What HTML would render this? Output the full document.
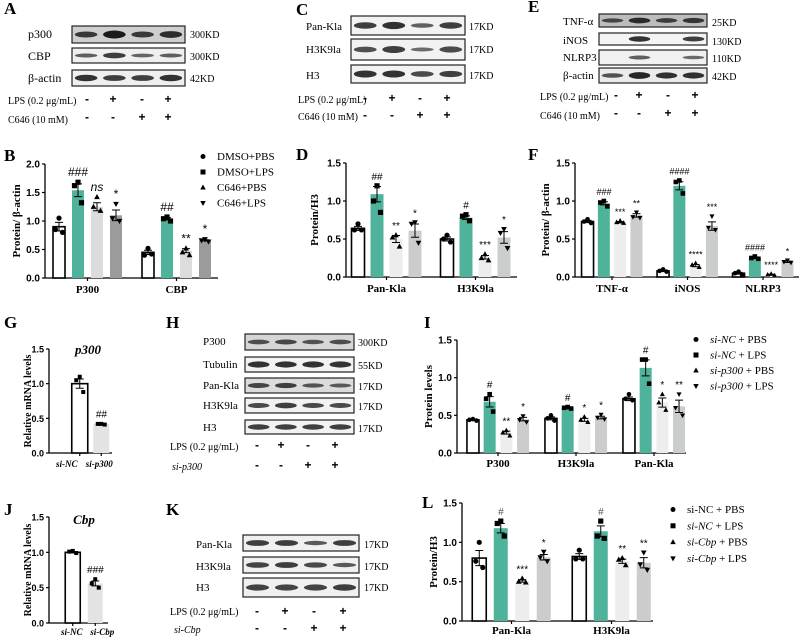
<!DOCTYPE html>
<html><head><meta charset="utf-8"><style>
body{margin:0;background:#fff;width:800px;height:640px;overflow:hidden}
svg{display:block}
.s{font-family:"Liberation Serif",serif}
.a{font-family:"Liberation Sans",sans-serif}
</style></head><body>
<svg id="fig" width="800" height="640" viewBox="0 0 800 640"></svg>
<script>
// ---------- DATA ----------
const bCats=["P300","CBP"];
const bVals=[[0.9,1.54,1.25,1.1],[0.45,1.04,0.48,0.66]];
const bPts=[[[1.05,0.85,0.8],[1.68,1.62,1.32],[1.42,1.25,1.18],[1.3,1.05,1.0]],[[0.52,0.4,0.42],[1.07,1.04,1.0],[0.52,0.45,0.4],[0.68,0.66,0.64]]];
const bSig=[["###","ns","*"],["##","**","*"]];
const bTicks=[0,0.5,1.0,1.5,2.0];
const bLegend=["DMSO+PBS","DMSO+LPS","C646+PBS","C646+LPS"];

const dCats=["Pan-Kla","H3K9la"];
const dVals=[[0.64,1.09,0.5,0.61],[0.5,0.78,0.26,0.52]];
const dPts=[[[0.7,0.62,0.62],[1.2,1.0,0.85],[0.55,0.52,0.4],[0.72,0.7,0.45]],[[0.55,0.5,0.46],[0.82,0.8,0.74],[0.3,0.25,0.22],[0.63,0.58,0.38]]];
const dSig=[["##","**","*"],["#","***","*"]];
const dTicks=[0,0.5,1.0,1.5];

const fCats=["TNF-α","iNOS","NLRP3"];
const fVals=[[0.73,0.97,0.72,0.81],[0.08,1.2,0.15,0.67],[0.05,0.25,0.03,0.2]];
const fPts=[[[0.76,0.73,0.71],[1.0,0.98,0.93],[0.74,0.72,0.71],[0.85,0.79,0.78]],[[0.1,0.08,0.07],[1.27,1.25,1.1],[0.18,0.16,0.13],[0.8,0.65,0.62]],[[0.07,0.05,0.03],[0.27,0.25,0.24],[0.04,0.03,0.02],[0.22,0.2,0.19]]];
const fSig=[["###","***","**"],["####","****","***"],["####","****","*"]];
const fTicks=[0,0.5,1.0,1.5];

const iCats=["P300","H3K9la","Pan-Kla"];
const iVals=[[0.44,0.68,0.27,0.45],[0.46,0.6,0.44,0.47],[0.72,1.13,0.67,0.62]];
const iPts=[[[0.45,0.44,0.43],[0.78,0.72,0.55],[0.3,0.27,0.23],[0.49,0.44,0.41]],[[0.5,0.46,0.43],[0.61,0.6,0.59],[0.48,0.44,0.41],[0.51,0.47,0.45]],[[0.78,0.72,0.7],[1.24,1.24,0.92],[0.78,0.67,0.57],[0.78,0.6,0.5]]];
const iSig=[["#","**","*"],["#","*","*"],["#","*","**"]];
const iTicks=[0,0.5,1.0,1.5];

const lCats=["Pan-Kla","H3K9la"];
const lVals=[[0.8,1.18,0.51,0.81],[0.82,1.14,0.76,0.74]];
const lPts=[[[1.0,0.76,0.68],[1.27,1.24,1.08],[0.54,0.5,0.49],[0.88,0.81,0.76]],[[0.9,0.79,0.79],[1.27,1.08,1.05],[0.8,0.78,0.71],[0.87,0.72,0.65]]];
const lSig=[["#","***","*"],["#","**","**"]];
const lTicks=[0,0.5,1.0,1.5];

const gCats=["si-NC","si-p300"];
const gVals=[1.0,0.42];
const gPts=[[1.1,1.05,0.88],[0.42,0.42,0.41]];
const jCats=["si-NC","si-Cbp"];
const jVals=[1.0,0.56];
const jPts=[[1.02,1.01,0.99],[0.62,0.56,0.5]];
const gjTicks=[0,0.5,1.0,1.5];

// ---------- HELPERS ----------
const NS="http://www.w3.org/2000/svg";
const svg=document.getElementById('fig');
function el(tag,attrs,parent,txt){const e=document.createElementNS(NS,tag);for(const k in attrs)e.setAttribute(k,attrs[k]);if(txt!==undefined)e.textContent=txt;(parent||svg).appendChild(e);return e;}
function txt(x,y,s,size,cls,anchor,extra,parent,name){const t=el('text',Object.assign({x:x,y:y,'font-size':size,class:cls,'text-anchor':anchor||'start'},extra||{}),parent,s);


return t;}
function marker(g,kind,x,y,r){let m;
 if(kind===0)m=el('circle',{cx:x,cy:y,r:r,fill:'#000'},g);
 else if(kind===1)m=el('rect',{x:x-r,y:y-r,width:2*r,height:2*r,fill:'#000'},g);
 else if(kind===2)m=el('polygon',{points:`${x},${y-r*1.2} ${x-r*1.1},${y+r*0.8} ${x+r*1.1},${y+r*0.8}`,fill:'#000'},g);
 else m=el('polygon',{points:`${x},${y+r*1.2} ${x-r*1.1},${y-r*0.8} ${x+r*1.1},${y-r*0.8}`,fill:'#000'},g);
 
 
}
function sem(a){const m=a.reduce((s,v)=>s+v,0)/a.length;const sd=Math.sqrt(a.reduce((s,v)=>s+(v-m)*(v-m),0)/(a.length-1));return sd/Math.sqrt(a.length);}

function barChart(o){
 const g=el('g',{});
 
 
 const y=v=>o.y0-(v/o.max)*(o.y0-o.yTop);
 const ax=el('path',{d:`M${o.ax},${o.yTop} V${o.y0} H${o.xEnd}`,stroke:'#000','stroke-width':1.3,fill:'none'},g);
 
 
 o.ticks.forEach(t=>{el('line',{x1:o.ax-3,x2:o.ax,y1:y(t),y2:y(t),stroke:'#000','stroke-width':1.2},g);
  txt(o.ax-5,y(t)+3.5,t.toFixed(1),o.tickSize||10,'a','end',{'font-weight':'bold'},g,'y-tick-label');});
 o.cats.forEach((c,gi)=>{
  const cx=o.c0+gi*o.gs;
  const vals=o.vals[gi];
  if(!o.barLabels){
   el('line',{x1:cx,x2:cx,y1:o.y0,y2:o.y0+3,stroke:'#000','stroke-width':1.2},g);
   txt(cx,o.labY,c,o.catSize||11,'s','middle',{'font-weight':'bold'},g,'x-category-label');
  }
  vals.forEach((v,bi)=>{
   const bx=cx+(bi-(vals.length-1)/2)*o.pitch-o.bw/2;
   const mx=bx+o.bw/2;
   const fill=o.colors[bi];
   const r=el('rect',{x:bx,y:y(v),width:o.bw,height:o.y0-y(v),fill:fill,stroke:bi===0?'#000':'none','stroke-width':bi===0?1.6:0},g);
   
   
   if(o.barLabels){
    el('line',{x1:mx,x2:mx,y1:o.y0,y2:o.y0+3,stroke:'#000','stroke-width':1.2},g);
    txt(mx+(o.labDx?o.labDx[bi]:0),o.labY,o.barLabels[bi],o.catSize||9,'s','middle',{'font-weight':'bold','font-style':'italic'},g,'x-category-label');
   }
   const pts=o.pts[gi][bi];const e=sem(pts);
   el('path',{d:`M${mx},${y(v-e)} V${y(v+e)} M${mx-4},${y(v+e)} H${mx+4} M${mx-4},${y(v-e)} H${mx+4}`,stroke:'#000','stroke-width':1,fill:'none'},g);
   const off=[0,-3.5,3.5];
   pts.forEach((p,k)=>marker(g,o.kinds?o.kinds[bi]:bi,mx+off[k],y(p),o.mr||2.6));
   if(bi>0&&o.sig){const top=Math.max(v+e,...pts);
    const s=o.sig[gi][bi-1];
    txt(mx,y(top)-6,s,o.sigSize||11,'a','middle',{'font-style':(s==='ns'||o.sigItal||(s[0]==='#'&&o.hashItal))?'italic':'normal',fill:(s[0]==='#'&&o.hashColor)?o.hashColor:'#000'},g,'significance-label');}
  });
 });
 txt(0,0,o.ytitle,o.ytSize||11,'s','middle',{'font-weight':'bold',transform:`translate(${o.ytx},${(o.y0+o.yTop)/2}) rotate(-90)`},g,'y-axis-title');
 return g;
}
function legend(x,y0,dy,items,size){items.forEach((it,i)=>{const g=el('g',{});
 
 
 marker(g,i,x,y0+i*dy-3.5,2.5);
 const t=el('text',{x:x+14,y:y0+i*dy,'font-size':size||11,class:'s'},g);
 it.forEach(p=>{el('tspan',{'font-style':p[1]?'italic':'normal'},t,p[0]);});
});}
function blot(x,y,w,h,intens,name,bg){const g=el('g',{});
 
 
 el('rect',{x:x,y:y,width:w,height:h,fill:bg||'#ececec',stroke:'#222','stroke-width':1.2},g);
 intens.forEach((v,i)=>{if(v<=0)return;const lw=w/4;const cx=x+lw*(i+0.5);
  el('ellipse',{cx:cx,cy:y+h/2,rx:lw*0.4,ry:1.2+h*0.18*v,fill:'#111',opacity:0.5+0.5*v},g);});
}
function signs(xs,y,arr){arr.forEach((s,i)=>txt(xs[i],y,s,12,'a','middle',{'font-weight':'bold'},null,'condition-sign'));}

const cols1=['#ffffff','#4fb39b','#dcdcdc','#9b9b9b'];
const cols2=['#ffffff','#4fb39b','#ededed','#cbcccc'];

// ---------- PANEL LETTERS ----------
[["A",4,14],["B",4,161],["C",296,15],["D",296,160],["E",528,12],["F",528,160],["G",4,328],["H",166,328],["I",424,328],["J",4,515],["K",166,515],["L",422,508]].forEach(p=>txt(p[1],p[2],p[0],17,'s','start',{'font-weight':'bold'},null,'panel-letter-'+p[0]));

// ---------- BLOTS ----------
// A
[["p300",26,17,[0.6,0.9,0.6,0.7],"300KD"],["CBP",48,15,[0.3,0.6,0.25,0.3],"300KD"],["β-actin",70,16,[0.7,0.6,0.6,0.7],"42KD"]].forEach(r=>{
 blot(72,r[1],113,r[2],r[3],'blot-'+r[0],r[0]==='p300'?'#cfcfcf':'#efefef');txt(28,r[1]+12,r[0],12,'s','start',{},null,'blot-label');txt(190,r[1]+12,r[4],10,'s','start',{},null,'blot-size');});
txt(8,104,"LPS (0.2 μg/mL)",10,'s','start',{},null,'condition-label');txt(8,123,"C646 (10 mM)",10,'s','start',{},null,'condition-label');
signs([87,113,142,168],103,["-","+","-","+"]);signs([87,113,142,168],121,["-","-","+","+"]);
// C
[["Pan-Kla",16,19,[0.6,0.7,0.3,0.6]],["H3K9la",39,21,[0.45,0.6,0.2,0.5]],["H3",65,18,[0.7,0.7,0.5,0.6]]].forEach(r=>{
 blot(351,r[1],114,r[2],r[3],'blot-'+r[0],'#f2f2f2');txt(306,r[1]+14,r[0],11,'s','start',{},null,'blot-label');txt(469,r[1]+14,"17KD",10,'s','start',{},null,'blot-size');});
txt(298,103,"LPS (0.2 μg/mL)",10,'s','start',{},null,'condition-label');txt(298,120,"C646 (10 mM)",10,'s','start',{},null,'condition-label');
signs([365,392,420,447],102,["-","+","-","+"]);signs([365,392,420,447],119,["-","-","+","+"]);
// E
[["TNF-α",14,13,[0.4,0.7,0.5,0.6],"25KD",'#bdbdbd'],["iNOS",33,12,[0,0.7,0,0.6],"130KD",'#f4f4f4'],["NLRP3",50,15,[0,0.3,0,0.2],"110KD",'#f0f0f0'],["β-actin",68,15,[0.4,0.8,0.7,0.7],"42KD",'#ebebeb']].forEach(r=>{
 blot(599,r[1],108,r[2],r[3],'blot-'+r[0],r[5]);txt(563,r[1]+11,r[0],11,'s','start',{},null,'blot-label');txt(712,r[1]+12,r[4],10,'s','start',{},null,'blot-size');});
txt(540,100,"LPS (0.2 μg/mL)",10,'s','start',{},null,'condition-label');txt(540,119,"C646 (10 mM)",10,'s','start',{},null,'condition-label');
signs([616,639,668,695],99,["-","+","-","+"]);signs([616,639,668,695],117,["-","-","+","+"]);
// H
[["P300",334,16,[0.4,0.45,0.35,0.4],"300KD",'#d6d6d6'],["Tubulin",357,15,[0.7,0.7,0.7,0.7],"55KD",'#f2f2f2'],["Pan-Kla",378,15,[0.5,0.55,0.35,0.3],"17KD",'#dcdcdc'],["H3K9la",398,15,[0.5,0.6,0.5,0.5],"17KD",'#f2f2f2'],["H3",420,14,[0.6,0.6,0.6,0.6],"17KD",'#f2f2f2']].forEach(r=>{
 blot(245,r[1],109,r[2],r[3],'blot-'+r[0],r[5]);txt(203,r[1]+11,r[0],11,'s','start',{},null,'blot-label');txt(358,r[1]+12,r[4],10,'s','start',{},null,'blot-size');});
txt(170,450,"LPS (0.2 μg/mL)",10,'s','start',{},null,'condition-label');
txt(172,470,"si-p300",10,'s','start',{'font-style':'italic'},null,'condition-label');
signs([257,281,308,335],449,["-","+","-","+"]);signs([257,281,308,335],469,["-","-","+","+"]);
// K
[["Pan-Kla",535,16,[0.6,0.6,0.35,0.6]],["H3K9la",557,16,[0.55,0.6,0.5,0.35]],["H3",578,19,[0.55,0.55,0.55,0.6]]].forEach(r=>{
 blot(243,r[1],116,r[2],r[3],'blot-'+r[0],'#f0f0f0');txt(196,r[1]+13,r[0],11,'s','start',{},null,'blot-label');txt(364,r[1]+13,"17KD",10,'s','start',{},null,'blot-size');});
txt(170,615,"LPS (0.2 μg/mL)",10,'s','start',{},null,'condition-label');
txt(174,633,"si-Cbp",10,'s','start',{'font-style':'italic'},null,'condition-label');
signs([257,285,314,343],615,["-","+","-","+"]);signs([257,285,314,343],632,["-","-","+","+"]);

// ---------- CHARTS ----------
barChart({name:'chart-b',cats:bCats,vals:bVals,pts:bPts,sig:bSig,ticks:bTicks,max:2.0,ax:45,xEnd:218,y0:278,yTop:164,c0:87.5,gs:89,pitch:19,bw:12,colors:cols1,labY:293,ytitle:"Protein/ β-actin",ytx:20,sigSize:12});
legend(203,160,15.5,bLegend.map(s=>[[s,false]]),11);
barChart({name:'chart-d',cats:dCats,vals:dVals,pts:dPts,sig:dSig,ticks:dTicks,max:1.5,ax:346,xEnd:517,y0:277,yTop:163,c0:386.5,gs:89,pitch:19,bw:13,colors:cols2,labY:292,ytitle:"Protein/H3",ytx:318,sigSize:10});
barChart({name:'chart-f',cats:fCats,vals:fVals,pts:fPts,sig:fSig,ticks:fTicks,max:1.5,ax:575,xEnd:799,y0:277,yTop:163,c0:612,gs:75.5,pitch:16.3,bw:12,colors:cols2,labY:292,ytitle:"Protein/ β-actin",ytx:549,sigSize:9,mr:2.3,hashItal:true});
barChart({name:'chart-i',cats:iCats,vals:iVals,pts:iPts,sig:iSig,ticks:iTicks,max:1.5,ax:457,xEnd:686,y0:453,yTop:340,c0:498,gs:78,pitch:16.7,bw:12,colors:cols2,labY:467,ytitle:"Protein levels",ytx:432,sigSize:10,mr:2.3});
legend(696,343,15.5,[[["si-NC",true],[" + PBS",false]],[["si-NC",true],[" + LPS",false]],[["si-p300",true],[" + PBS",false]],[["si-p300",true],[" +  LPS",false]]],11);
barChart({name:'chart-l',cats:lCats,vals:lVals,pts:lPts,sig:lSig,ticks:lTicks,max:1.5,ax:462,xEnd:653,y0:621,yTop:503,c0:511.5,gs:100,pitch:21.5,bw:14,colors:cols2,labY:634,ytitle:"Protein/H3",ytx:437,sigSize:10,mr:2.6,hashItal:true,hashColor:'#555'});
legend(673,513,16.3,[[["si-NC + PBS",false]],[["si-NC",true],[" +  LPS",false]],[["si-Cbp",true],[" + PBS",false]],[["si-Cbp",true],[" +  LPS",false]]],11);
barChart({name:'chart-g',cats:["g"],barLabels:gCats,labDx:[-13,-2],vals:[gVals],pts:[gPts],sig:[["##"]],ticks:gjTicks,max:1.5,ax:49,xEnd:112,y0:453,yTop:349,c0:90.5,gs:0,pitch:21.5,bw:16,colors:['#ffffff','#e3e3e3'],labY:467,catSize:9,ytitle:"Relative mRNA levels",ytx:31,ytSize:10,tickSize:9,kinds:[1,1],mr:2,sigSize:10,sigItal:true});
barChart({name:'chart-j',cats:["j"],barLabels:jCats,labDx:[-1,7],vals:[jVals],pts:[jPts],sig:[["###"]],ticks:gjTicks,max:1.5,ax:49,xEnd:108,y0:623,yTop:517,c0:84,gs:0,pitch:22.5,bw:15,colors:['#ffffff','#e3e3e3'],labY:635,catSize:9,ytitle:"Relative mRNA levels",ytx:31,ytSize:10,tickSize:9,kinds:[1,1],mr:2,sigSize:10,sigItal:true});
txt(88,354,"p300",13,'s','middle',{'font-weight':'bold','font-style':'italic'},null,'chart-g-title');
txt(84,524,"Cbp",13,'s','middle',{'font-weight':'bold','font-style':'italic'},null,'chart-j-title');
</script>
</body></html>
